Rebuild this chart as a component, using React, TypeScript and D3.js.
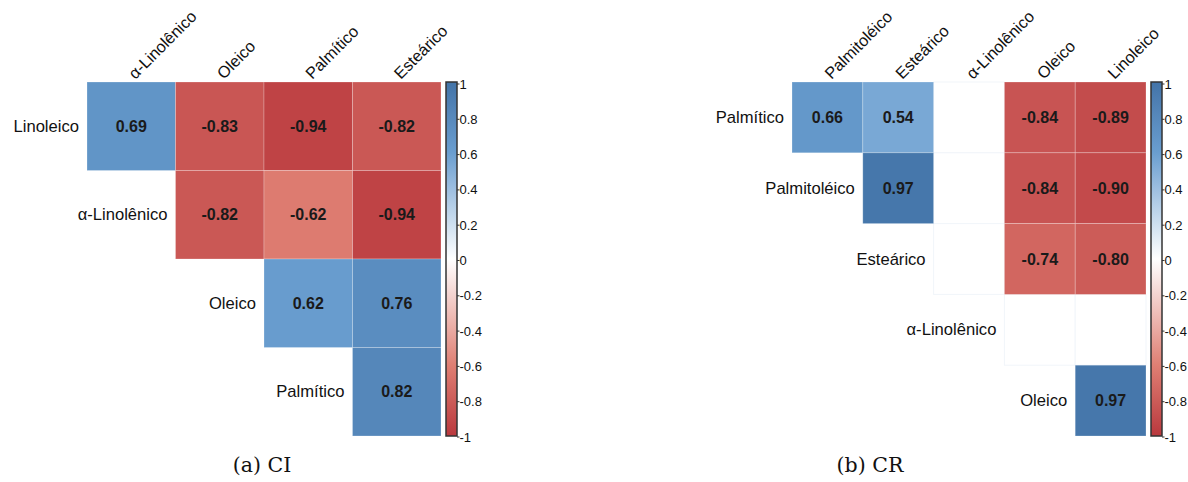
import React from "react";
import * as d3 from "d3";

// ---------- Data ----------
const ciRows = ["Linoleico", "α-Linolênico", "Oleico", "Palmítico"];
const ciCols = ["α-Linolênico", "Oleico", "Palmítico", "Esteárico"];
const ciValues: (number | null)[][] = [
  [0.69, -0.83, -0.94, -0.82],
  [null, -0.82, -0.62, -0.94],
  [null, null, 0.62, 0.76],
  [null, null, null, 0.82],
];

const crRows = ["Palmítico", "Palmitoléico", "Esteárico", "α-Linolênico", "Oleico"];
const crCols = ["Palmitoléico", "Esteárico", "α-Linolênico", "Oleico", "Linoleico"];
// NaN = blank (non significant) cell, null = not drawn
const crValues: (number | null)[][] = [
  [0.66, 0.54, NaN, -0.84, -0.89],
  [null, 0.97, NaN, -0.84, -0.9],
  [null, null, NaN, -0.74, -0.8],
  [null, null, null, NaN, NaN],
  [null, null, null, null, 0.97],
];

const legendTicks = [1, 0.8, 0.6, 0.4, 0.2, 0, -0.2, -0.4, -0.6, -0.8, -1];
const captions = ["(a) CI", "(b) CR"];

// ---------- Styles ----------
const W = 1188;
const H = 482;
const SANS = "'Liberation Sans', Arial, sans-serif";
const SERIF = "'DejaVu Serif', 'Liberation Serif', serif";

const color = d3
  .scaleLinear<string>()
  .domain([-1, -0.6, 0, 0.6, 1])
  .range(["#B9383D", "#DF7F73", "#FFFFFF", "#6A9ED0", "#4374A8"])
  .interpolate(d3.interpolateRgb);

type PanelProps = {
  id: string;
  rows: string[];
  cols: string[];
  values: (number | null)[][];
  x0: number;
  x1: number;
  y0: number;
  y1: number;
};

function Panel({ id, rows, cols, values, x0, x1, y0, y1 }: PanelProps) {
  const x = d3.scaleBand<number>().domain(d3.range(cols.length)).range([x0, x1]);
  const y = d3.scaleBand<number>().domain(d3.range(rows.length)).range([y0, y1]);
  const bw = x.bandwidth();
  const bh = y.bandwidth();

  const barX = x1 + 5;
  const barW = 11;
  const barScale = d3.scaleLinear().domain([-1, 1]).range([y1, y0]);
  const labScale = d3.scaleLinear().domain([-1, 1]).range([y1 + 1, y0 + 2]);
  const stops = d3.range(0, 1.0001, 0.05);

  const cells: React.ReactNode[] = [];
  const blanks: React.ReactNode[] = [];
  values.forEach((row, i) =>
    row.forEach((v, j) => {
      if (v === null) return;
      if (Number.isNaN(v)) {
        blanks.push(
          <rect
            key={`b${i}-${j}`}
            x={x(j)}
            y={y(i)}
            width={bw}
            height={bh}
            fill="#ffffff"
            stroke="#f1f5fa"
            strokeWidth={1}
          />
        );
        return;
      }
      cells.push(
        <g key={`c${i}-${j}`}>
          <rect
            x={x(j)}
            y={y(i)}
            width={bw}
            height={bh}
            fill={color(v)}
            stroke="#ffffff"
            strokeOpacity={0.3}
            strokeWidth={0.8}
          />
          <text
            x={x(j)! + bw / 2}
            y={y(i)! + bh / 2}
            textAnchor="middle"
            dominantBaseline="central"
            fontFamily={SANS}
            fontWeight="bold"
            fontSize={16}
            fill="#1a1a1a"
          >
            {v.toFixed(2)}
          </text>
        </g>
      );
    })
  );

  return (
    <g>
      <defs>
        <linearGradient id={`grad-${id}`} x1="0" y1="1" x2="0" y2="0">
          {stops.map((t) => (
            <stop key={t} offset={t} stopColor={color(-1 + 2 * t)} />
          ))}
        </linearGradient>
      </defs>
      {blanks}
      {cells}
      {/* row labels */}
      {rows.map((r, i) => (
        <text
          key={`r${i}`}
          x={x(i)! - 8}
          y={y(i)! + bh / 2}
          textAnchor="end"
          dominantBaseline="central"
          fontFamily={SANS}
          fontSize={16.6}
          fill="#111"
        >
          {r}
        </text>
      ))}
      {/* column labels */}
      {cols.map((c, j) => (
        <text
          key={`col${j}`}
          transform={`translate(${x(j)! + bw / 2 + 4},${y0 - 2}) rotate(-45)`}
          textAnchor="start"
          fontFamily={SANS}
          fontSize={16.3}
          fill="#111"
        >
          {c}
        </text>
      ))}
      {/* colour bar */}
      <rect
        x={barX}
        y={barScale(1)}
        width={barW}
        height={barScale(-1) - barScale(1)}
        fill={`url(#grad-${id})`}
        stroke="#333"
        strokeWidth={1.5}
      />
      {legendTicks.map((t) => (
        <g key={`t${t}`}>
          <line
            x1={barX + barW}
            x2={barX + barW + 2.5}
            y1={labScale(t)}
            y2={labScale(t)}
            stroke="#333"
            strokeWidth={1}
          />
          <text
            x={barX + barW + 2.5}
            y={labScale(t)}
            dominantBaseline="central"
            fontFamily={SANS}
            fontSize={13}
            fill="#111"
          >
            {t === 0 ? " 0" : t === 1 ? " 1" : String(t)}
          </text>
        </g>
      ))}
    </g>
  );
}

export default function App() {
  return (
    <svg
      width={W}
      height={H}
      viewBox={`0 0 ${W} ${H}`}
      style={{ position: "absolute", left: 0, top: 0, background: "#fff" }}
    >
      <rect x={0} y={0} width={W} height={H} fill="#fff" />
      <Panel id="ci" rows={ciRows} cols={ciCols} values={ciValues} x0={87} x1={441} y0={82} y1={436} />
      <Panel id="cr" rows={crRows} cols={crCols} values={crValues} x0={792} x1={1146} y0={82} y1={436} />
      <text x={262} y={472} textAnchor="middle" fontFamily={SERIF} fontSize={20.5} fill="#111">
        {captions[0]}
      </text>
      <text x={870} y={472} textAnchor="middle" fontFamily={SERIF} fontSize={20.5} fill="#111">
        {captions[1]}
      </text>
    </svg>
  );
}
